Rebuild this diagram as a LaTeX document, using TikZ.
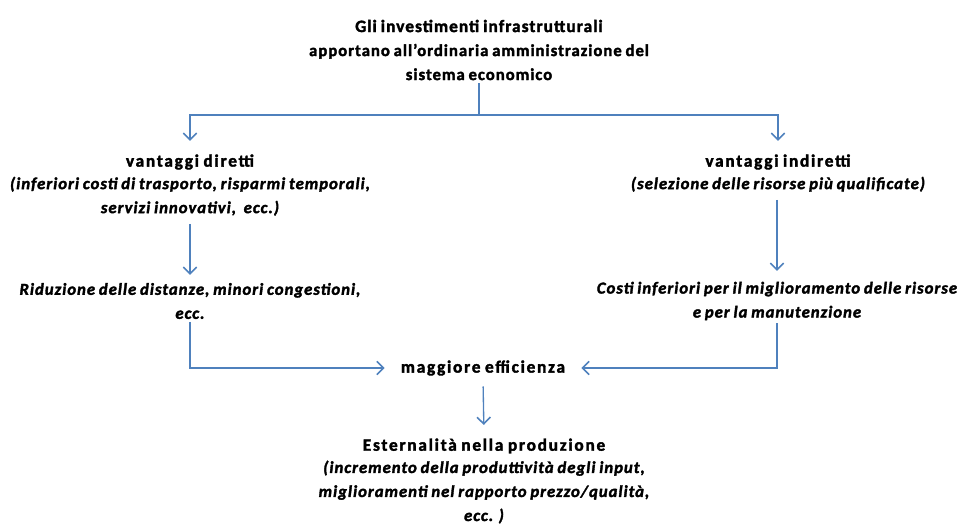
\documentclass[tikz,border=0pt]{standalone}
\usepackage{fontspec}
\setmainfont{Carlito}
\newfontfamily\pesante{Carlito Bold}[FakeBold=2, LetterSpace=10, WordSpace=0.8]
\newfontfamily\pesantetit{Carlito Bold}[FakeBold=2, LetterSpace=6, WordSpace=0.8]
\newfontfamily\pesanteit{Carlito Bold Italic}[FakeBold=2, LetterSpace=6, WordSpace=0.8]
\usepackage{xcolor}
\usetikzlibrary{positioning,calc,arrows.meta}

\definecolor{linea}{RGB}{79,129,189}

\tikzset{
    testo/.style={align=center, font=\fontsize{13}{18}\pesante, inner sep=2pt},
    nota/.style={testo, font=\fontsize{12.5}{18}\pesanteit},
    conn/.style={draw=linea, line width=1.5pt},
    freccia/.style={conn, -{Straight Barb[length=5pt,width=10pt,line width=1.2pt]}},
}

\begin{document}
\begin{tikzpicture}[x=0.75pt, y=-0.75pt]
    \useasboundingbox (0,0) rectangle (958,524);

    % Title
    \node[testo, font=\fontsize{13}{18}\pesantetit] (titolo) at (479,50) {Gli investimenti infrastrutturali\\
        {\fontsize{12.5}{18}\selectfont apportano all’ordinaria amministrazione del}\\
        {\fontsize{12.5}{18}\selectfont sistema economico}};

    % Advantages
    \node[testo] (diretti) at (190,162) {vantaggi diretti};
    \node[nota, below=1pt of diretti] (diretti2) {(inferiori costi di trasporto, risparmi temporali,\\
        servizi innovativi,\ \ ecc.)};
    \node[testo] (indiretti) at (778,162) {vantaggi indiretti};
    \node[nota, below=1pt of indiretti] (indiretti2) {(selezione delle risorse più qualificate)};

    % Effects
    \node[nota] (riduzione) at (190,301) {Riduzione delle distanze, minori congestioni,\\ ecc.};
    \node[nota] (costi) at (777,301) {Costi inferiori per il miglioramento delle risorse\\ e per la manutenzione};
    \node[testo] (efficienza) at (483,368) {maggiore efficienza};

    % Result
    \node[testo] (esternalita) at (484,446) {Esternalità nella produzione};
    \node[nota, below=1pt of esternalita] (esternalita2) {(incremento della produttività degli input,\\
        miglioramenti nel rapporto prezzo/qualità,\\ ecc. )};

    % Connectors
    \coordinate (split) at (titolo.south |- 0,115);
    \draw[conn] (titolo.south) -- (split);
    \draw[freccia] (split) -| ([yshift=8pt]diretti.north);
    \draw[freccia] (split) -| ([yshift=8pt]indiretti.north);
    \draw[freccia] ([yshift=-4pt]diretti2.south) -- ([yshift=4pt]riduzione.north);
    \draw[freccia] ([yshift=-4pt]indiretti2.south -| costi.north) -- ([yshift=6pt]costi.north);
    \draw[freccia, shorten >=10pt] (riduzione.south) |- (efficienza.west);
    \draw[freccia, shorten >=10pt] (costi.south) |- (efficienza.east);
    \draw[freccia, line width=1pt, shorten <=6pt, shorten >=8pt] (efficienza.south) -- (esternalita.north);
\end{tikzpicture}
\end{document}
